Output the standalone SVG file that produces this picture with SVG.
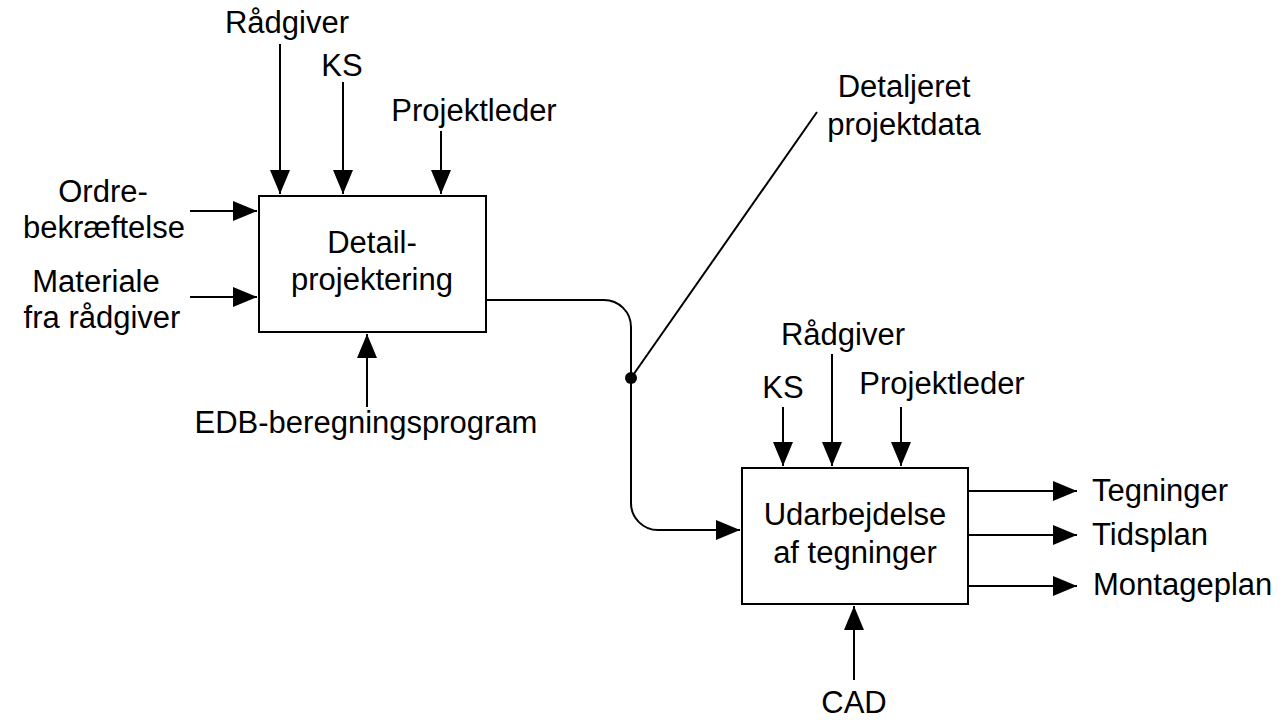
<svg xmlns="http://www.w3.org/2000/svg" width="1280" height="723" viewBox="0 0 1280 723">
<style>
text{font-family:"Liberation Sans",Arial,sans-serif;font-size:31px;fill:#000}
.c{text-anchor:middle}
.box{fill:#fff;stroke:#000;stroke-width:2}
.ln{fill:none;stroke:#000;stroke-width:2}
</style>
<defs>
<marker id="ah" markerUnits="userSpaceOnUse" markerWidth="26" markerHeight="22" refX="24" refY="10" orient="auto">
<path d="M0,0 L24,10 L0,20 Z" fill="#000"/>
</marker>
</defs>
<rect width="1280" height="723" fill="#fff"/>
<g id="connectors">
<path class="ln" d="M280,44 V194" marker-end="url(#ah)"/>
<path class="ln" d="M343,82 V194" marker-end="url(#ah)"/>
<path class="ln" d="M441,131 V194" marker-end="url(#ah)"/>
<path class="ln" d="M190,211 H257" marker-end="url(#ah)"/>
<path class="ln" d="M190,297 H257" marker-end="url(#ah)"/>
<path class="ln" d="M367,407 V334" marker-end="url(#ah)"/>
<path class="ln" d="M486,300 H604 A27,27 0 0 1 631,327 V503 A27,27 0 0 0 658,530 H740" marker-end="url(#ah)"/>
<path class="ln" d="M631,378 L817,112"/>
<circle cx="631" cy="378" r="6" fill="#000"/>
<path class="ln" d="M783,407 V466" marker-end="url(#ah)"/>
<path class="ln" d="M832,354 V466" marker-end="url(#ah)"/>
<path class="ln" d="M901,407 V466" marker-end="url(#ah)"/>
<path class="ln" d="M968,491 H1077" marker-end="url(#ah)"/>
<path class="ln" d="M968,535 H1077" marker-end="url(#ah)"/>
<path class="ln" d="M968,586 H1077" marker-end="url(#ah)"/>
<path class="ln" d="M854,680 V606" marker-end="url(#ah)"/>
</g>
<g id="detailprojektering">
<rect class="box" x="259" y="196" width="227" height="136"/>
<text class="c" x="372" y="253">Detail-</text>
<text class="c" x="372" y="290">projektering</text>
</g>
<g id="udarbejdelse">
<rect class="box" x="742" y="468" width="226" height="136"/>
<text class="c" x="855" y="525">Udarbejdelse</text>
<text class="c" x="855" y="563">af tegninger</text>
</g>
<g id="labels">
<text class="c" x="287" y="33">Rådgiver</text>
<text class="c" x="342" y="76">KS</text>
<text class="c" x="474" y="121">Projektleder</text>
<text class="c" x="103" y="202">Ordre-</text>
<text class="c" x="104" y="238">bekræftelse</text>
<text class="c" x="96" y="292">Materiale</text>
<text class="c" x="102" y="328">fra rådgiver</text>
<text class="c" x="366" y="433">EDB-beregningsprogram</text>
<text class="c" x="904" y="97">Detaljeret</text>
<text class="c" x="904" y="135">projektdata</text>
<text class="c" x="783" y="398">KS</text>
<text class="c" x="843" y="345">Rådgiver</text>
<text class="c" x="942" y="394">Projektleder</text>
<text x="1092" y="501">Tegninger</text>
<text x="1092" y="545">Tidsplan</text>
<text x="1093" y="595">Montageplan</text>
<text class="c" x="854" y="713">CAD</text>
</g>
</svg>
